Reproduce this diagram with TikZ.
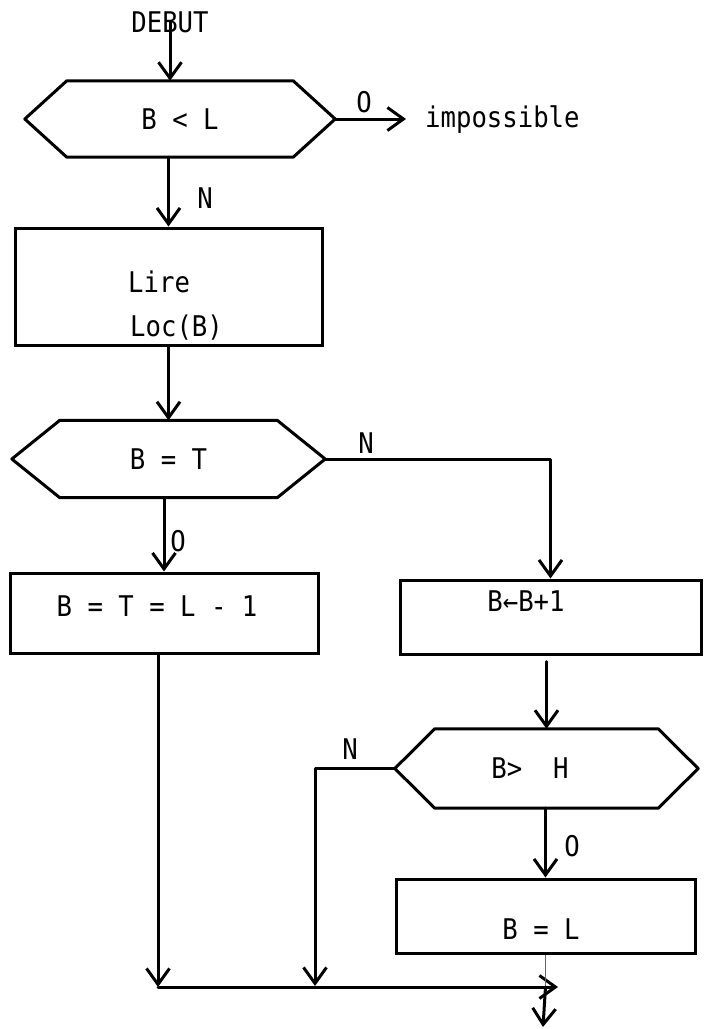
\documentclass[tikz,border=0pt]{standalone}
\usepackage{fontspec}
\newfontfamily\tw[FakeStretch=0.9]{DejaVu Sans Mono}
\usetikzlibrary{arrows.meta,calc}
\newcommand\hexa[2]{\draw[ln] (#1.west) -- ([xshift=#2]#1.north west) -- ([xshift=-#2]#1.north east) -- (#1.east) -- ([xshift=-#2]#1.south east) -- ([xshift=#2]#1.south west) -- cycle;}
\begin{document}
\begin{tikzpicture}[x=1pt,y=-1pt,
  every node/.style={font=\tw\fontsize{28.5}{32}\selectfont},
  ln/.style={line width=3pt, line cap=round, line join=round},
  arr/.style={ln, -{Straight Barb[length=16pt,width=23pt,line width=3pt]}},
  boxn/.style={draw, line width=3pt, inner sep=0pt},
  hexn/.style={inner sep=0pt},
  faint/.style={line width=1.2pt, black!60}]
\fill[white] (0,0) rectangle (706,1029);
\useasboundingbox (0,0) rectangle (706,1029);

% nodes
\node (debut) at (170,22) {DEBUT};
\node[hexn, minimum width=310pt, minimum height=76pt] (h1) at (180,119) {B < L};
\node (o1) at (364,102) {O};
\node[anchor=base west, inner sep=0pt] (imp) at (425,127) {impossible};
\node (n1) at (205,198) {N};
\node[boxn, minimum width=307pt, minimum height=117pt] (lire) at (168.5,286.5) {};
\node[anchor=west, inner sep=0pt] (tl1) at (128,282) {Lire};
\node[anchor=west, inner sep=0pt] (tl2) at (130,328) {Loc(B)};
\node[hexn, minimum width=313pt, minimum height=77pt] (h2) at (168.5,459) {B = T};
\node (n2) at (366,443) {N};
\node (o2) at (178,541) {O};
\node[boxn, minimum width=308pt, minimum height=80pt] (b3) at (164,613) {};
\node (t3) at (157,606) {B = T = L - 1};
\node[boxn, minimum width=301pt, minimum height=74pt] (b4) at (550.5,617) {};
\node (t4) at (526,601) {B←B+1};
\node[hexn, minimum width=303pt, minimum height=79pt] (h3) at (546.5,768.5) {};
\node (t5) at (530,768) {B>~~H};
\node (n3) at (350,749) {N};
\node (o3) at (572,846) {O};
\node[boxn, minimum width=299pt, minimum height=74pt] (b5) at (545.5,916) {};
\node (t6) at (541,929) {B = L};

\coordinate (j1) at (158,987);
\coordinate (j2) at (315,986);
\coordinate (j3) at (558,987);
\coordinate (ex) at (543,1027);

% hexagons
\hexa{h1}{42pt}
\hexa{h2}{48pt}
\hexa{h3}{40pt}

% connectors
\draw[arr] (debut.center) -- (debut.center |- h1.north);
\draw[arr, shorten >=19pt] (h1.east) -- (h1.east -| imp.west);
\draw[arr] (lire.north |- h1.south) -- (lire.north);
\draw[arr] (lire.south) -- (lire.south |- h2.north);
\draw[arr] (b3.north |- h2.south) -- (b3.north);
\draw[arr] (h2.east) -| (b4.north);
\draw[arr] ([yshift=-6pt]b4.south -| h3.north) -- (h3.north);
\draw[arr] (h3.south -| b5.north) -- (b5.north);
\draw[arr] (h3.west) -| (j2);
\draw[arr] (b3.south -| j1) -- (j1);
\draw[arr] (j1) -- (j3);
\draw[faint] (b5.south) -- (b5.south |- j1);
\draw[arr] (b5.south |- j1) -- (ex);
\end{tikzpicture}
\end{document}
